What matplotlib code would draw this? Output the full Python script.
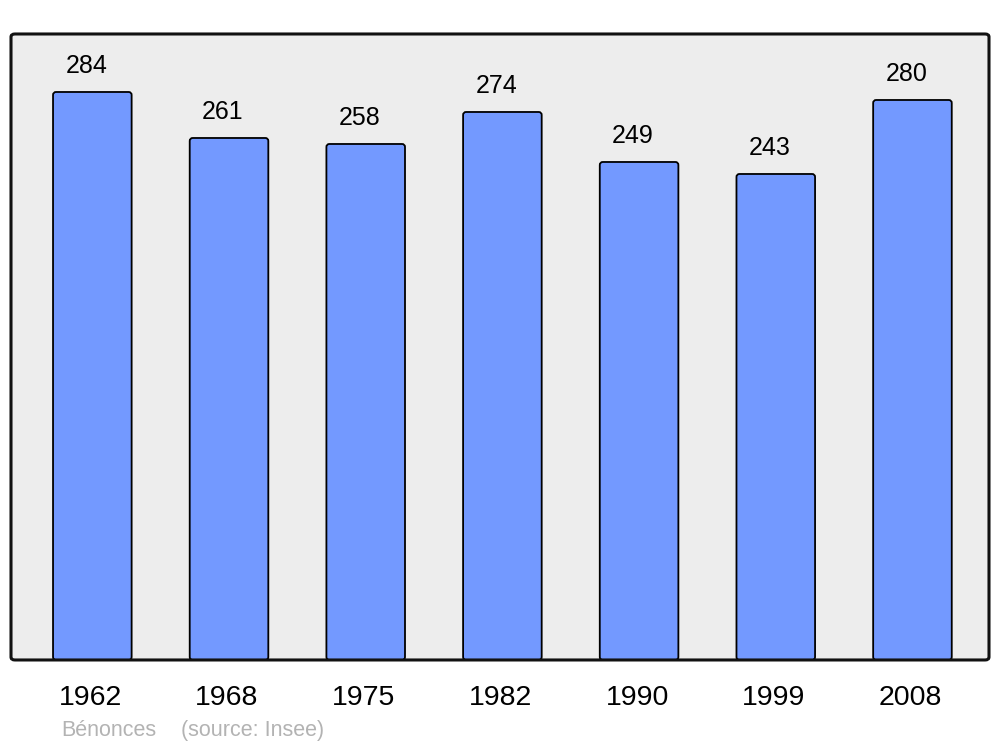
import matplotlib.pyplot as plt
from matplotlib.patches import FancyBboxPatch
from matplotlib.transforms import offset_copy

plt.rcParams['font.family'] = ['Liberation Sans', 'DejaVu Sans']

years = ['1962', '1968', '1975', '1982', '1990', '1999', '2008']
population = [284, 261, 258, 274, 249, 243, 280]

fig = plt.figure(figsize=(10, 7.47), dpi=100)
ax = fig.add_axes([0.011, 0.1165, 0.978, 0.838])
ax.set_facecolor('#ededed')

x = range(len(years))
bars = ax.bar(x, population, width=0.575, color='none', edgecolor='none')

# redraw bars with slightly rounded corners
for b in bars:
    p = FancyBboxPatch((b.get_x(), b.get_y()), b.get_width(), b.get_height(),
                       boxstyle='round,pad=0,rounding_size=0.022',
                       mutation_aspect=68, facecolor='#7399ff',
                       edgecolor='black', linewidth=1.3)
    ax.add_patch(p)

# labels sit a bit left of the bar centres in the original
lab_tr = offset_copy(ax.transData, fig=fig, x=-6, y=0, units='dots')
for i, v in enumerate(population):
    ax.text(i, v + 13, str(v), ha='center', va='center', fontsize=18,
            transform=lab_tr)

ax.set_xlim(-0.595, 6.56)
ax.set_ylim(0, 313)
ax.set_xticks(list(x))
ax.set_xticklabels(years, fontsize=20.5)
ax.tick_params(axis='x', length=0, pad=18)
for t in ax.get_xticklabels():
    t.set_transform(offset_copy(t.get_transform(), fig=fig, x=-2, y=0, units='dots'))
ax.set_yticks([])
for s in ax.spines.values():
    s.set_visible(False)

frame = FancyBboxPatch((0, 0), 1, 1, transform=ax.transAxes,
                       boxstyle='round,pad=0,rounding_size=0.004',
                       mutation_aspect=1.17, facecolor='none',
                       edgecolor='#111111', linewidth=2.2, clip_on=False)
ax.add_patch(frame)

fig.text(0.061, 0.0225, 'Bénonces', color='#b3b3b3', fontsize=15.5, va='center')
fig.text(0.181, 0.0225, '(source: Insee)', color='#b3b3b3', fontsize=15.5, va='center')

fig.savefig('out.png', dpi=100)
